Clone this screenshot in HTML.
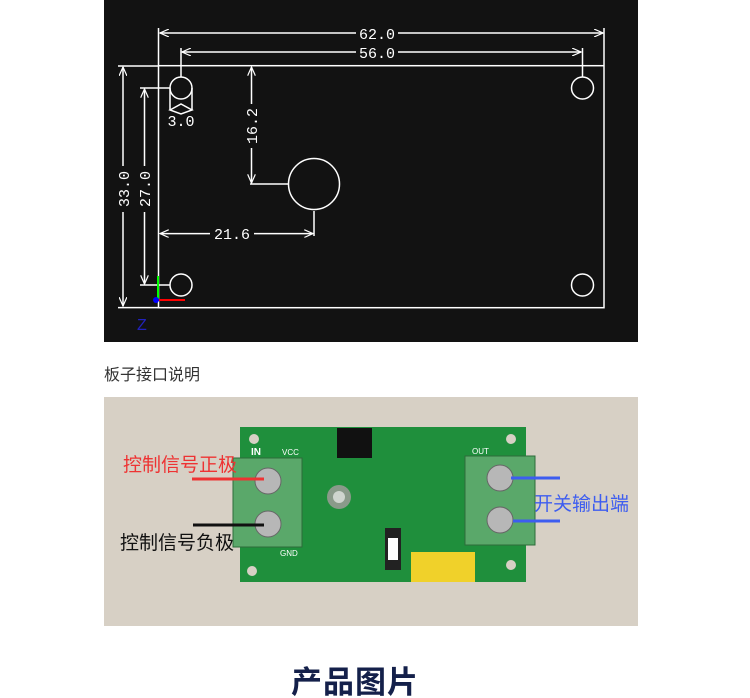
<!DOCTYPE html>
<html><head><meta charset="utf-8"><style>
html,body{margin:0;padding:0;background:#fff;width:750px;height:698px;overflow:hidden;position:relative;font-family:"Liberation Sans","Noto Sans CJK SC",sans-serif}
.abs{position:absolute;white-space:nowrap}
</style></head><body>
<svg class="abs" style="left:0;top:0" width="750" height="698">
<defs>
<marker id="a" markerWidth="10" markerHeight="8" refX="9" refY="4" orient="auto-start-reverse" markerUnits="userSpaceOnUse"><path d="M0,0 L9,4 L0,8" fill="none" stroke="#fff" stroke-width="1.2"/></marker>
</defs>
<rect x="104" y="0" width="534" height="342" fill="#121212"/>
<g stroke="#fff" stroke-width="1.5" fill="none">
<rect x="158.5" y="65.7" width="445.5" height="242"/>
<line x1="158.5" y1="65" x2="158.5" y2="28"/><line x1="604" y1="65" x2="604" y2="28"/>
<line x1="160" y1="33" x2="603" y2="33" marker-start="url(#a)" marker-end="url(#a)"/>
<line x1="181" y1="77" x2="181" y2="48"/><line x1="582.5" y1="77" x2="582.5" y2="48"/>
<line x1="182" y1="52" x2="581" y2="52" marker-start="url(#a)" marker-end="url(#a)"/>
<circle cx="181" cy="88" r="11"/><circle cx="582.5" cy="88" r="11"/>
<circle cx="181" cy="285" r="11"/><circle cx="582.5" cy="285" r="11"/>
<line x1="170" y1="88" x2="170" y2="110"/><line x1="192" y1="88" x2="192" y2="110"/>
<path d="M170,110 L181,104 L192,110 L181,114 Z"/>
<circle cx="314" cy="184" r="25.5"/>
<line x1="118" y1="66" x2="158" y2="66"/><line x1="118" y1="307.6" x2="158" y2="307.6"/>
<line x1="123" y1="67" x2="123" y2="306" marker-start="url(#a)" marker-end="url(#a)"/>
<line x1="140" y1="88" x2="170" y2="88"/><line x1="140" y1="285" x2="170" y2="285"/>
<line x1="144.5" y1="89" x2="144.5" y2="284" marker-start="url(#a)" marker-end="url(#a)"/>
<line x1="251.5" y1="67" x2="251.5" y2="183" marker-start="url(#a)" marker-end="url(#a)"/>
<line x1="250" y1="184" x2="288" y2="184"/>
<line x1="314" y1="211" x2="314" y2="236"/>
<line x1="160" y1="233.6" x2="313" y2="233.6" marker-start="url(#a)" marker-end="url(#a)"/>
</g>
<rect x="112" y="166" width="22" height="46" fill="#121212"/>
<rect x="133" y="166" width="22" height="46" fill="#121212"/>
<rect x="240" y="104" width="22" height="44" fill="#121212"/>
<rect x="210" y="224" width="44" height="18" fill="#121212"/>
<rect x="356" y="24" width="42" height="18" fill="#121212"/>
<rect x="356" y="43" width="42" height="18" fill="#121212"/>
<g fill="#fff" font-family="Liberation Mono,monospace" font-size="15">
<text x="377" y="39" text-anchor="middle">62.0</text>
<text x="377" y="58" text-anchor="middle">56.0</text>
<text x="181" y="126" text-anchor="middle">3.0</text>
<text x="232" y="239" text-anchor="middle">21.6</text>
<text transform="translate(129,189) rotate(-90)" text-anchor="middle">33.0</text>
<text transform="translate(150,189) rotate(-90)" text-anchor="middle">27.0</text>
<text transform="translate(257,126) rotate(-90)" text-anchor="middle">16.2</text>
</g>
<line x1="158" y1="300" x2="158" y2="276" stroke="#0f0" stroke-width="2"/>
<line x1="158" y1="300" x2="185" y2="300" stroke="#f00" stroke-width="2"/>
<circle cx="156" cy="300" r="3" fill="#00f"/>
<text x="137" y="330" fill="#2222bb" font-size="16" font-family="Liberation Sans,sans-serif">Z</text>

<rect x="104" y="397" width="534" height="229" fill="#d7d0c5"/>
<rect x="240" y="427" width="286" height="155" fill="#1f8f3c"/>
<g fill="#d7d0c5"><circle cx="254" cy="439" r="5"/><circle cx="511" cy="439" r="5"/><circle cx="252" cy="571" r="5"/><circle cx="511" cy="565" r="5"/></g>
<circle cx="339" cy="497" r="12" fill="#8a9a8a"/><circle cx="339" cy="497" r="6" fill="#cfd5cf"/>
<rect x="337" y="428" width="35" height="30" fill="#111"/>
<rect x="385" y="528" width="16" height="42" fill="#222"/><rect x="388" y="538" width="10" height="22" fill="#fff"/>
<rect x="411" y="552" width="64" height="30" fill="#f0d12a"/>
<g fill="#5aa86a" stroke="#2d6b3a"><rect x="233" y="458" width="69" height="89"/><rect x="465" y="456" width="70" height="89"/></g>
<g fill="#b7b7b7" stroke="#666"><circle cx="268" cy="481" r="13"/><circle cx="268" cy="524" r="13"/><circle cx="500" cy="478" r="13"/><circle cx="500" cy="520" r="13"/></g>
<g fill="#fff" font-size="8" font-family="Liberation Sans,sans-serif"><text x="251" y="455" font-size="10" font-weight="bold">IN</text><text x="282" y="455">VCC</text><text x="280" y="556">GND</text><text x="472" y="454">OUT</text></g>
<line x1="192" y1="479" x2="264" y2="479" stroke="#ee3333" stroke-width="3"/>
<line x1="193" y1="525" x2="264" y2="525" stroke="#111" stroke-width="3"/>
<line x1="511" y1="478" x2="560" y2="478" stroke="#3d5df0" stroke-width="3"/>
<line x1="513" y1="521" x2="560" y2="521" stroke="#3d5df0" stroke-width="3"/>
</svg>
<div class="abs" style="left:123px;top:450px;font-size:19px;color:#ee3333">控制信号正极</div>
<div class="abs" style="left:120px;top:528px;font-size:19px;color:#111">控制信号负极</div>
<div class="abs" style="left:534px;top:489px;font-size:19px;color:#3d5df0">开关输出端</div>
<div class="abs" style="left:104px;top:361px;font-size:16px;color:#333">板子接口说明</div>
<div class="abs" style="left:291px;top:657px;font-size:31px;font-weight:bold;color:#14204a;letter-spacing:1px">产品图片</div>
</body></html>
